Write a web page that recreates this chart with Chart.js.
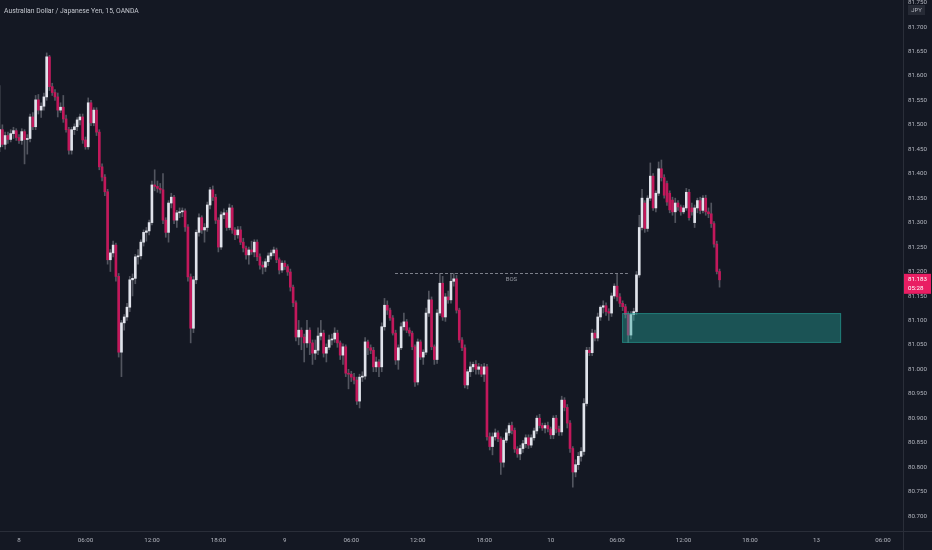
<!DOCTYPE html>
<html>
<head>
<meta charset="utf-8">
<script src="https://cdn.jsdelivr.net/npm/chart.js@4.4.0/dist/chart.umd.min.js"></script>
<style>
  html, body { margin: 0; padding: 0; background: #141823; }
  #wrap { width: 932px; height: 550px; }
</style>
</head>
<body>
<div id="wrap"><canvas id="chart" width="932" height="550"></canvas></div>
<script>
// AUDJPY 15m candles, bar index 0 = day 8 00:00
const symbolTitle = 'Australian Dollar / Japanese Yen, 15, OANDA';
const firstBar = -7;

const opens = [
  81.455,81.490,81.460,81.478,81.470,81.482,81.488,81.474,81.468,81.486,
  81.470,81.472,81.516,81.496,81.551,81.530,81.538,81.557,81.639,81.578,
  81.566,81.557,81.530,81.536,81.512,81.490,81.448,81.490,81.496,81.510,
  81.516,81.469,81.455,81.545,81.504,81.530,81.485,81.414,81.393,81.363,
  81.224,81.238,81.254,81.190,81.035,81.095,81.107,81.127,81.183,81.186,
  81.230,81.232,81.260,81.280,81.283,81.300,81.377,81.374,81.370,81.367,
  81.305,81.280,81.340,81.352,81.305,81.320,81.322,81.324,81.291,81.189,
  81.084,81.183,81.280,81.310,81.285,81.290,81.336,81.367,81.352,81.305,
  81.250,81.316,81.320,81.290,81.330,81.285,81.275,81.285,81.260,81.248,
  81.234,81.244,81.240,81.260,81.230,81.213,81.209,81.220,81.232,81.238,
  81.244,81.224,81.203,81.217,81.210,81.199,81.168,81.136,81.066,81.080,
  81.066,81.054,81.080,81.054,81.033,81.039,81.068,81.074,81.033,81.045,
  81.060,81.062,81.074,81.054,81.029,81.046,80.992,80.990,80.984,80.978,
  80.935,80.984,80.986,81.056,81.044,81.039,81.005,81.015,81.005,81.087,
  81.131,81.121,81.105,81.074,81.019,81.044,81.087,81.097,81.080,81.074,
  81.046,80.974,81.056,81.025,81.035,81.115,81.142,81.046,81.020,81.115,
  81.176,81.107,81.148,81.142,81.180,81.185,81.121,81.060,81.044,80.968,
  80.995,81.005,81.010,81.000,81.005,80.990,81.005,80.862,80.842,80.862,
  80.870,80.858,80.810,80.855,80.870,80.885,80.875,80.837,80.827,80.838,
  80.848,80.860,80.845,80.860,80.874,80.900,80.885,80.880,80.885,80.878,
  80.866,80.900,80.878,80.872,80.937,80.922,80.890,80.838,80.790,80.805,
  80.822,80.832,80.930,81.039,81.034,81.074,81.064,81.107,81.127,81.130,
  81.118,81.115,81.150,81.170,81.148,81.135,81.128,81.112,81.070,81.112,
  81.118,81.193,81.290,81.340,81.288,81.350,81.395,81.330,81.360,81.410,
  81.392,81.380,81.360,81.346,81.322,81.340,81.332,81.322,81.330,81.362,
  81.330,81.300,81.330,81.345,81.325,81.350,81.322,81.318,81.298,81.256,81.200
];

const highs = [
  81.580,81.500,81.485,81.485,81.490,81.495,81.492,81.480,81.492,81.490,
  81.480,81.522,81.525,81.560,81.562,81.545,81.565,81.647,81.642,81.585,
  81.572,81.565,81.545,81.560,81.520,81.495,81.495,81.502,81.515,81.522,
  81.522,81.475,81.555,81.550,81.535,81.535,81.490,81.420,81.398,81.368,
  81.245,81.262,81.258,81.196,81.100,81.112,81.135,81.190,81.195,81.235,
  81.245,81.265,81.285,81.290,81.305,81.385,81.408,81.385,81.380,81.400,
  81.310,81.345,81.360,81.356,81.325,81.330,81.330,81.328,81.296,81.195,
  81.190,81.285,81.318,81.314,81.298,81.342,81.372,81.375,81.358,81.310,
  81.322,81.328,81.325,81.338,81.335,81.290,81.292,81.292,81.268,81.252,
  81.250,81.262,81.265,81.265,81.236,81.220,81.226,81.238,81.244,81.250,
  81.248,81.228,81.222,81.222,81.214,81.205,81.172,81.140,81.100,81.085,
  81.072,81.100,81.085,81.060,81.060,81.085,81.100,81.080,81.052,81.070,
  81.072,81.085,81.080,81.058,81.052,81.050,81.000,80.996,80.992,80.984,
  80.990,80.995,81.065,81.060,81.050,81.045,81.025,81.020,81.095,81.145,
  81.140,81.125,81.110,81.080,81.050,81.095,81.115,81.102,81.085,81.078,
  81.050,81.062,81.060,81.040,81.125,81.160,81.148,81.050,81.122,81.196,
  81.190,81.155,81.160,81.196,81.196,81.192,81.125,81.065,81.050,81.000,
  81.015,81.015,81.018,81.012,81.010,81.012,81.010,80.870,80.870,80.878,
  80.874,80.862,80.860,80.878,80.890,80.892,80.880,80.842,80.845,80.855,
  80.866,80.866,80.866,80.880,80.905,80.908,80.890,80.890,80.892,80.882,
  80.905,80.906,80.884,80.945,80.942,80.928,80.895,80.842,80.815,80.830,
  80.840,80.940,81.045,81.045,81.082,81.080,81.115,81.130,81.140,81.136,
  81.124,81.156,81.175,81.196,81.155,81.140,81.133,81.118,81.118,81.125,
  81.200,81.315,81.368,81.345,81.355,81.422,81.400,81.365,81.424,81.428,
  81.398,81.385,81.365,81.352,81.350,81.345,81.336,81.335,81.370,81.368,
  81.340,81.336,81.350,81.352,81.355,81.356,81.330,81.340,81.302,81.262,81.205
];

const lows = [
  81.445,81.455,81.450,81.462,81.465,81.472,81.468,81.462,81.460,81.420,
  81.440,81.465,81.490,81.490,81.522,81.515,81.530,81.550,81.570,81.560,
  81.550,81.516,81.525,81.505,81.485,81.440,81.440,81.480,81.488,81.500,
  81.462,81.450,81.450,81.498,81.498,81.478,81.408,81.385,81.355,81.215,
  81.200,81.230,81.180,81.025,80.985,81.080,81.100,81.118,81.150,81.175,
  81.215,81.225,81.252,81.262,81.275,81.295,81.365,81.362,81.360,81.298,
  81.270,81.260,81.330,81.298,81.290,81.310,81.312,81.282,81.180,81.054,
  81.075,81.175,81.272,81.278,81.260,81.282,81.328,81.345,81.298,81.240,
  81.245,81.308,81.284,81.285,81.278,81.265,81.268,81.255,81.240,81.225,
  81.215,81.235,81.230,81.222,81.205,81.195,81.200,81.212,81.225,81.232,
  81.218,81.195,81.198,81.204,81.192,81.160,81.128,81.058,81.050,81.040,
  81.015,81.045,81.030,81.010,81.020,81.030,81.060,81.025,81.015,81.040,
  81.050,81.055,81.045,81.020,81.010,80.985,80.960,80.975,80.970,80.928,
  80.921,80.975,80.980,81.030,81.032,80.995,80.995,80.985,80.995,81.080,
  81.112,81.100,81.070,81.010,81.000,81.040,81.080,81.075,81.068,81.040,
  80.965,80.968,81.020,81.010,81.030,81.108,81.040,81.010,81.012,81.110,
  81.100,81.098,81.135,81.135,81.170,81.115,81.055,81.038,80.962,80.960,
  80.985,80.995,80.990,80.990,80.985,80.975,80.855,80.835,80.825,80.855,
  80.852,80.785,80.800,80.850,80.865,80.868,80.830,80.820,80.815,80.830,
  80.840,80.838,80.840,80.855,80.868,80.880,80.875,80.870,80.872,80.858,
  80.858,80.870,80.865,80.865,80.915,80.880,80.830,80.759,80.780,80.795,
  80.812,80.825,80.925,81.028,81.028,81.058,81.058,81.100,81.115,81.110,
  81.100,81.108,81.145,81.140,81.128,81.120,81.105,81.055,81.062,81.100,
  81.112,81.188,81.285,81.280,81.282,81.345,81.325,81.322,81.355,81.385,
  81.350,81.335,81.320,81.315,81.300,81.325,81.315,81.318,81.325,81.305,
  81.315,81.290,81.320,81.318,81.320,81.315,81.310,81.290,81.250,81.195,81.168
];

const closes = [
  81.490,81.460,81.478,81.470,81.482,81.488,81.474,81.468,81.486,81.470,
  81.472,81.516,81.496,81.551,81.530,81.538,81.557,81.639,81.578,81.566,
  81.557,81.530,81.536,81.512,81.490,81.448,81.490,81.496,81.510,81.516,
  81.469,81.455,81.545,81.504,81.530,81.485,81.414,81.393,81.363,81.224,
  81.238,81.254,81.190,81.035,81.095,81.107,81.127,81.183,81.186,81.230,
  81.232,81.260,81.280,81.283,81.300,81.377,81.374,81.370,81.367,81.305,
  81.280,81.340,81.352,81.305,81.320,81.322,81.324,81.291,81.189,81.084,
  81.183,81.280,81.310,81.285,81.290,81.336,81.367,81.352,81.305,81.250,
  81.316,81.320,81.290,81.330,81.285,81.275,81.285,81.260,81.248,81.234,
  81.244,81.240,81.260,81.230,81.213,81.209,81.220,81.232,81.238,81.244,
  81.224,81.203,81.217,81.210,81.199,81.168,81.136,81.066,81.080,81.066,
  81.054,81.080,81.054,81.033,81.039,81.068,81.074,81.033,81.045,81.060,
  81.062,81.074,81.054,81.029,81.046,80.992,80.990,80.984,80.978,80.935,
  80.984,80.986,81.056,81.044,81.039,81.005,81.015,81.005,81.087,81.131,
  81.121,81.105,81.074,81.019,81.044,81.087,81.097,81.080,81.074,81.046,
  80.974,81.056,81.025,81.035,81.115,81.142,81.046,81.020,81.115,81.176,
  81.107,81.148,81.142,81.180,81.185,81.121,81.060,81.044,80.968,80.995,
  81.005,81.010,81.000,81.005,80.990,81.005,80.862,80.842,80.862,80.870,
  80.858,80.810,80.855,80.870,80.885,80.875,80.837,80.827,80.838,80.848,
  80.860,80.845,80.860,80.874,80.900,80.885,80.880,80.885,80.878,80.866,
  80.900,80.878,80.872,80.937,80.922,80.890,80.838,80.790,80.805,80.822,
  80.832,80.930,81.039,81.034,81.074,81.064,81.107,81.127,81.130,81.118,
  81.115,81.150,81.170,81.148,81.135,81.128,81.112,81.070,81.112,81.118,
  81.193,81.290,81.350,81.288,81.350,81.395,81.330,81.360,81.410,81.392,
  81.356,81.342,81.326,81.322,81.340,81.332,81.322,81.330,81.362,81.310,
  81.322,81.330,81.345,81.325,81.350,81.322,81.318,81.298,81.256,81.200,81.183
];

// time axis: label every 24 bars (6h)
const timeLabels = ['8','06:00','12:00','18:00','9','06:00','12:00','18:00','10','06:00','12:00','18:00','13','06:00'];
const timeTickBars = [0,24,48,72,96,120,144,168,192,216,240,264,288,312];

// break of structure line + demand zone
const bosLevel = 81.196;
const bosFrom = 135.8;
const bosTo = 219.9;
const zoneFrom = 217.8;
const zoneTo = 296.9;
const zoneLow = 81.054;
const zoneHigh = 81.115;

const lastPrice = 81.183;
const countdown = '05:28';

const BG = '#141823';
const UP = '#e0e3eb';
const DOWN = '#c2185b';
const WICK = '#52555f';
const TEXT = '#b2b5be';
const LINE = '#2a2e39';
const FONT = 'Roboto, "Noto Sans", sans-serif';

const bodies = closes.map((c, k) => ({x: firstBar + k, y: [opens[k], c]}));
const wicks = highs.map((h, k) => ({x: firstBar + k, y: [lows[k], h]}));

const overlay = {
	id: 'overlay',
	beforeDraw(chart) {
		const c = chart.ctx;
		c.save();
		c.fillStyle = BG;
		c.fillRect(0, 0, chart.width, chart.height);
		c.restore();
	},
	afterDatasetsDraw(chart) {
		const c = chart.ctx;
		const x = chart.scales.x, y = chart.scales.y, a = chart.chartArea;
		c.save();
		c.beginPath();
		c.rect(a.left, a.top, a.right - a.left, a.bottom - a.top);
		c.clip();

		// zone
		const zx0 = x.getPixelForValue(zoneFrom), zx1 = x.getPixelForValue(zoneTo);
		const zy0 = y.getPixelForValue(zoneHigh), zy1 = y.getPixelForValue(zoneLow);
		c.fillStyle = 'rgba(38,166,154,0.42)';
		c.fillRect(zx0, zy0, zx1 - zx0, zy1 - zy0);
		c.strokeStyle = 'rgba(38,166,154,0.5)';
		c.lineWidth = 1;
		c.strokeRect(zx0 + 0.5, zy0 + 0.5, zx1 - zx0 - 1, zy1 - zy0 - 1);

		// BOS
		const by = Math.round(y.getPixelForValue(bosLevel)) + 0.5;
		c.setLineDash([3, 2]);
		c.strokeStyle = '#7c7f8a';
		c.beginPath();
		c.moveTo(x.getPixelForValue(bosFrom), by);
		c.lineTo(x.getPixelForValue(bosTo), by);
		c.stroke();
		c.setLineDash([]);
		c.font = '6px ' + FONT;
		c.fillStyle = '#9598a1';
		c.textAlign = 'center';
		c.textBaseline = 'middle';
		c.fillText('BOS', x.getPixelForValue((bosFrom + bosTo) / 2), by + 6);
		c.restore();
	},
	afterDraw(chart) {
		const c = chart.ctx;
		const y = chart.scales.y, a = chart.chartArea;
		c.save();

		// axis borders
		c.strokeStyle = LINE;
		c.lineWidth = 1;
		c.beginPath();
		c.moveTo(Math.round(a.right) + 0.5, 0);
		c.lineTo(Math.round(a.right) + 0.5, chart.height);
		c.moveTo(0, Math.round(a.bottom) - 0.5);
		c.lineTo(chart.width, Math.round(a.bottom) - 0.5);
		c.stroke();

		// title
		c.font = '6.8px ' + FONT;
		c.fillStyle = '#c3c6ce';
		c.textAlign = 'left';
		c.textBaseline = 'middle';
		c.fillText(symbolTitle, 4, 11);

		// currency box
		c.fillStyle = '#262a35';
		c.fillRect(908, 5, 17, 10);
		c.fillStyle = TEXT;
		c.font = '6px ' + FONT;
		c.textAlign = 'center';
		c.fillText('JPY', 916.5, 10);

		// last price label
		const py = y.getPixelForValue(lastPrice);
		c.fillStyle = '#e91e63';
		c.fillRect(a.right + 1, py - 6, chart.width - a.right - 2, 20);
		c.fillStyle = '#ffffff';
		c.textAlign = 'left';
		c.font = '6.2px ' + FONT;
		c.fillText(lastPrice.toFixed(3), a.right + 5, py);
		c.fillText(countdown, a.right + 5, py + 8.5);
		c.restore();
	}
};

new Chart(document.getElementById('chart'), {
	type: 'bar',
	data: {
		datasets: [
			{
				label: 'body',
				data: bodies,
				backgroundColor: (ctx) => closes[ctx.dataIndex] >= opens[ctx.dataIndex] ? UP : DOWN,
				barThickness: 2,
				minBarLength: 1,
				grouped: false,
				borderWidth: 0,
			},
			{
				label: 'wick',
				data: wicks,
				backgroundColor: WICK,
				barThickness: 1,
				grouped: false,
				borderWidth: 0,
			},
		]
	},
	options: {
		responsive: false,
		animation: false,
		devicePixelRatio: 1,
		layout: {padding: 0},
		plugins: {
			legend: {display: false},
			tooltip: {enabled: false},
		},
		scales: {
			x: {
				type: 'linear',
				min: -6.862,
				max: 319.25,
				offset: false,
				grid: {display: false, drawTicks: false},
				border: {display: false},
				afterBuildTicks: (s) => { s.ticks = timeTickBars.map(v => ({value: v})); },
				afterFit: (s) => { s.height = 18; s.paddingLeft = 0; s.paddingRight = 0; },
				ticks: {
					autoSkip: false,
					maxRotation: 0,
					padding: 5,
					color: TEXT,
					font: {family: FONT, size: 6.2},
					callback: (v, i) => timeLabels[i],
				},
			},
			y: {
				type: 'linear',
				position: 'right',
				min: 80.6673,
				max: 81.7552,
				grid: {display: false, drawTicks: false},
				border: {display: false},
				afterFit: (s) => { s.width = 29; s.paddingTop = 0; s.paddingBottom = 0; },
				ticks: {
					stepSize: 0.05,
					includeBounds: false,
					padding: 5,
					color: TEXT,
					font: {family: FONT, size: 6.2},
					callback: (v) => v.toFixed(3),
				},
			},
		},
	},
	plugins: [overlay],
});
</script>
</body>
</html>
